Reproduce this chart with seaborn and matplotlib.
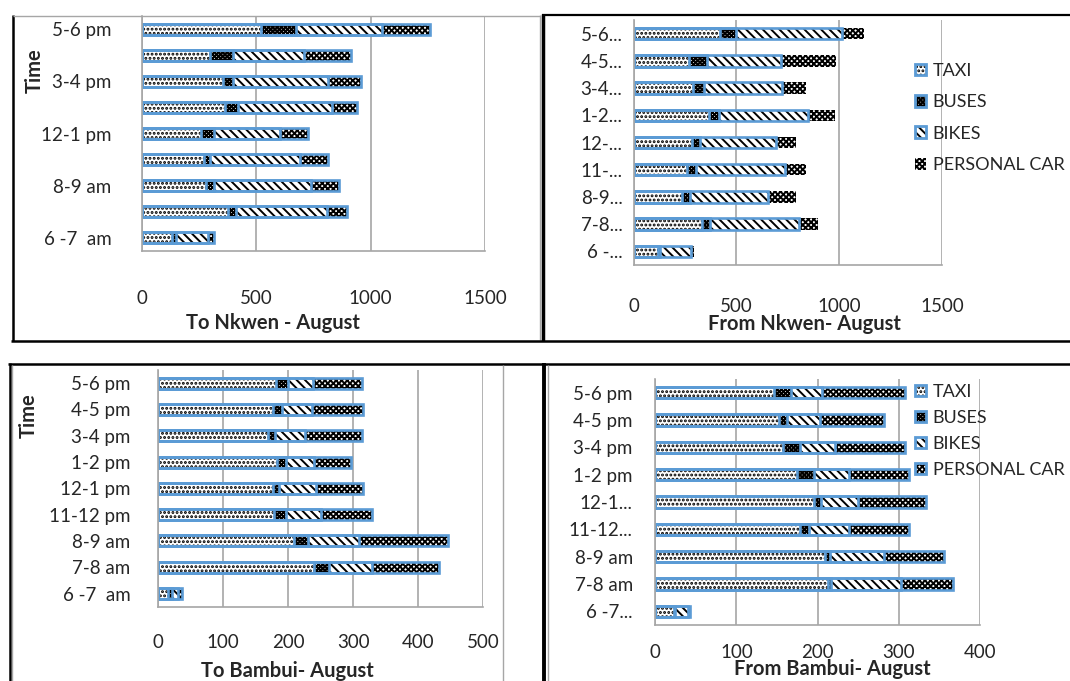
import numpy as np
import pandas as pd
import matplotlib
matplotlib.use("Agg")
import matplotlib.pyplot as plt
import seaborn as sns
from matplotlib.lines import Line2D
from matplotlib.patches import Patch

# time slots, top to bottom
times = ["5-6 pm", "4-5 pm", "3-4 pm", "1-2 pm", "12-1 pm",
         "11-12 pm", "8-9 am", "7-8 am", "6 -7  am"]
modes = ["TAXI", "BUSES", "BIKES", "PERSONAL CAR"]

# tick labels as printed on each panel
tl_labels = ["5-6 pm", "", "3-4 pm", "", "12-1 pm", "", "8-9 am", "", "6 -7  am"]
tr_labels = ["5-6...", "4-5...", "3-4...", "1-2...", "12-...", "11-...",
             "8-9...", "7-8...", "6 -..."]
bl_labels = times
br_labels = ["5-6 pm", "4-5 pm", "3-4 pm", "1-2 pm", "12-1...", "11-12...",
             "8-9 am", "7-8 am", "6 -7..."]

# To Nkwen - August
to_nkwen_taxi = [521, 298, 354, 365, 259, 272, 281, 374, 131]
to_nkwen_buses = [151, 102, 43, 53, 54, 26, 32, 38, 19]
to_nkwen_bikes = [379, 310, 418, 415, 291, 393, 426, 399, 137]
to_nkwen_car = [208, 203, 141, 106, 124, 124, 124, 87, 30]

# From Nkwen - August
from_nkwen_taxi = [419, 271, 287, 368, 282, 261, 234, 334, 118]
from_nkwen_buses = [81, 87, 57, 47, 41, 41, 40, 37, 11]
from_nkwen_bikes = [513, 357, 379, 435, 371, 435, 379, 431, 148]
from_nkwen_car = [105, 269, 116, 129, 96, 102, 137, 93, 15]

# To Bambui - August
to_bambui_taxi = [181, 177, 169, 183, 176, 178, 209, 239, 15]
to_bambui_buses = [19, 13, 10, 13, 9, 19, 22, 24, 6]
to_bambui_bikes = [38, 46, 47, 43, 58, 53, 78, 65, 10]
to_bambui_car = [75, 79, 87, 58, 72, 78, 137, 104, 5]

# From Bambui - August
from_bambui_taxi = [146, 152, 157, 174, 196, 178, 209, 213, 23]
from_bambui_buses = [21, 10, 21, 21, 8, 11, 6, 4, 2]
from_bambui_bikes = [38, 41, 43, 44, 46, 50, 66, 86, 15]
from_bambui_car = [103, 79, 87, 73, 83, 73, 74, 64, 3]

BLUE = "#5b9bd5"
GRID = "#a6a6a6"
TXT = "#262626"
hatches = ["....", "xxxxxxxx", "\\\\\\\\", "xxxxxx"]

sns.set_style("white")
plt.rcParams["font.family"] = ["Lato", "DejaVu Sans"]
plt.rcParams["hatch.linewidth"] = 1.4

W, H = 1070, 681
fig = plt.figure(figsize=(W / 100, H / 100), dpi=100)
TICK_FS = 13.5
LAB_FS = 14.5


def box(x0, x1, top, bottom):
    return [x0 / W, 1 - bottom / H, (x1 - x0) / W, (bottom - top) / H]


def draw_panel(ax, taxi, buses, bikes, car, labels, xmax, xstep, outline_car=True):
    df = pd.DataFrame({"time": times, "TAXI": taxi, "BUSES": buses,
                       "BIKES": bikes, "PERSONAL CAR": car})
    # cumulative ends of each stacked segment
    cum = df[modes].cumsum(axis=1)
    cum["time"] = df["time"]
    # hatched fills, longest first so shorter ones paint over
    for mode, hatch in reversed(list(zip(modes, hatches))):
        n0 = len(ax.patches)
        sns.barplot(data=cum, x=mode, y="time", order=times, orient="h",
                    width=0.42, color="white", saturation=1, errorbar=None, ax=ax)
        for p in ax.patches[n0:]:
            p.set_facecolor("white")
            p.set_hatch(hatch)
            p.set_edgecolor("black")
            p.set_linewidth(0)
    # blue segment outlines
    out_modes = modes if outline_car else modes[:3]
    for mode in out_modes:
        n0 = len(ax.patches)
        sns.barplot(data=cum, x=mode, y="time", order=times, orient="h",
                    width=0.42, color=BLUE, fill=False, errorbar=None, ax=ax)
        for p in ax.patches[n0:]:
            p.set_facecolor("none")
            p.set_edgecolor(BLUE)
            p.set_linewidth(1.9)
    ax.set_xlim(0, xmax)
    ax.set_ylim(8.5, -0.5)
    ax.set_xticks(np.arange(0, xmax + 1, xstep))
    ax.set_yticks(range(len(times)))
    ax.set_yticklabels(labels)
    ax.set_axisbelow(True)
    ax.xaxis.grid(True, color=GRID, linewidth=1.2)
    for s in ["top", "right"]:
        ax.spines[s].set_visible(False)
    for s in ["left", "bottom"]:
        ax.spines[s].set_color(GRID)
        ax.spines[s].set_linewidth(1.2)
    ax.tick_params(axis="x", length=8, width=1.2, color=GRID, labelsize=TICK_FS,
                   labelcolor=TXT)
    ax.tick_params(axis="y", length=0, labelsize=TICK_FS, labelcolor=TXT)
    ax.set_ylabel("")


def legend(x, y, spacing, outline_car=True):
    handles = []
    for i, h in enumerate(hatches):
        fillp = Patch(facecolor="white", hatch=h, edgecolor="black", linewidth=0)
        if i < 3 or outline_car:
            handles.append((fillp, Patch(facecolor="none", edgecolor=BLUE, linewidth=2)))
        else:
            handles.append((fillp,))
    fig.legend(handles, modes, loc="upper left", bbox_to_anchor=(x / W, 1 - y / H),
               frameon=False, fontsize=13, borderpad=0, borderaxespad=0,
               handlelength=0.62, handleheight=0.62, handletextpad=0.35,
               labelspacing=spacing, labelcolor=TXT)


# top left: To Nkwen
ax1 = fig.add_axes(box(142, 485, 16, 251))
draw_panel(ax1, to_nkwen_taxi, to_nkwen_buses, to_nkwen_bikes, to_nkwen_car,
           tl_labels, 1500, 500)
ax1.tick_params(axis="x", pad=20)
ax1.tick_params(axis="y", pad=22)
ax1.set_xlabel("To Nkwen - August", fontsize=LAB_FS, fontweight="bold", color=TXT)
ax1.xaxis.set_label_coords(0.382, -0.305)
ax1.xaxis.label.set_va("center")
ax1.set_ylabel("Time", fontsize=LAB_FS, fontweight="bold", color=TXT)
ax1.yaxis.set_label_coords(-0.312, 0.766)
ax1.yaxis.label.set_va("center")

# top right: From Nkwen
ax2 = fig.add_axes(box(633.5, 942.3, 20, 265))
draw_panel(ax2, from_nkwen_taxi, from_nkwen_buses, from_nkwen_bikes, from_nkwen_car,
           tr_labels, 1500, 500, outline_car=False)
ax2.tick_params(axis="x", pad=16)
ax2.tick_params(axis="y", pad=8)
ax2.set_xlabel("From Nkwen- August", fontsize=LAB_FS, fontweight="bold", color=TXT)
ax2.xaxis.set_label_coords(0.555, -0.24)
ax2.xaxis.label.set_va("center")
legend(915, 63, 0.85, outline_car=False)

# bottom left: To Bambui
ax3 = fig.add_axes(box(158.3, 483.3, 370, 606.7))
draw_panel(ax3, to_bambui_taxi, to_bambui_buses, to_bambui_bikes, to_bambui_car,
           bl_labels, 500, 100)
ax3.tick_params(axis="x", pad=12)
ax3.tick_params(axis="y", pad=20)
ax3.set_xlabel("To Bambui- August", fontsize=LAB_FS, fontweight="bold", color=TXT)
ax3.xaxis.set_label_coords(0.396, -0.27)
ax3.xaxis.label.set_va("center")
ax3.set_ylabel("Time", fontsize=LAB_FS, fontweight="bold", color=TXT)
ax3.yaxis.set_label_coords(-0.399, 0.806)
ax3.yaxis.label.set_va("center")

# bottom right: From Bambui
ax4 = fig.add_axes(box(655, 980.3, 379, 625))
draw_panel(ax4, from_bambui_taxi, from_bambui_buses, from_bambui_bikes, from_bambui_car,
           br_labels, 400, 100)
ax4.tick_params(axis="x", pad=6)
ax4.tick_params(axis="y", pad=16)
ax4.set_xlabel("From Bambui- August", fontsize=LAB_FS, fontweight="bold", color=TXT)
ax4.xaxis.set_label_coords(0.544, -0.18)
ax4.xaxis.label.set_va("center")
legend(915, 384, 0.55)


# panel frames
def fline(xs, ys, color="black", lw=2.0):
    fig.add_artist(Line2D([x / W for x in xs], [1 - y / H for y in ys],
                          color=color, linewidth=lw, solid_capstyle="butt"))


fline([12.5, 12.5], [15, 341], lw=1.8)
fline([13, 540], [15.5, 15.5], color=GRID, lw=1.0)
fline([539.5, 539.5], [15, 340], color=GRID, lw=1.0)
fline([543, 543], [14, 341], lw=2.5)
fline([542, 1070], [15, 15], lw=1.6)
fline([11, 1070], [340.5, 340.5], lw=1.8)
fline([8, 1070], [363.5, 363.5], lw=1.8)
fline([9.5, 9.5], [363, 681], lw=1.8)
fline([12, 12], [365, 681], color=GRID, lw=1.0)
fline([503, 503], [365, 681], color=GRID, lw=1.0)
fline([543.5, 543.5], [363, 681], lw=2.8)
fline([547.5, 547.5], [365, 681], color=GRID, lw=1.0)

fig.savefig("out.png", dpi=100, facecolor="white")
